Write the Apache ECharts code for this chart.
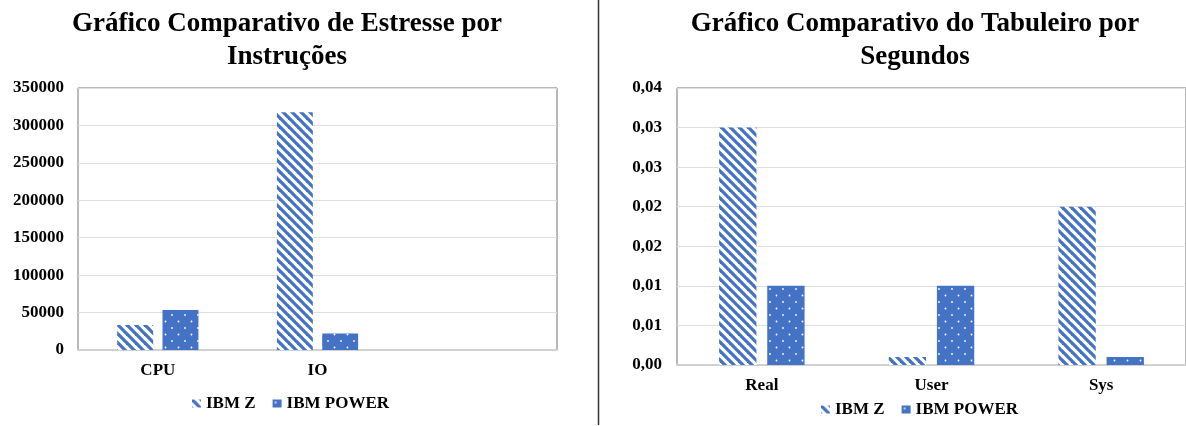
<!DOCTYPE html>
<html>
<head>
<meta charset="utf-8">
<script src="https://cdn.jsdelivr.net/npm/echarts@6/dist/echarts.min.js"></script>
<style>
html,body{margin:0;padding:0;background:#fff;}
#main{width:1186px;height:426px;}
</style>
</head>
<body>
<div id="main"></div>
<script>
// ---- data ----
const leftTitle = 'Gráfico Comparativo de Estresse por\nInstruções';
const rightTitle = 'Gráfico Comparativo do Tabuleiro por\nSegundos';
const seriesNames = ['IBM Z', 'IBM POWER'];

const leftCategories = ['CPU', 'IO', ''];
const leftIbmZ = [33300, 317500, null];
const leftIbmPower = [53300, 22200, null];
const leftYTicks = ['0', '50000', '100000', '150000', '200000', '250000', '300000', '350000'];

const rightCategories = ['Real', 'User', 'Sys'];
const rightIbmZ = [0.03, 0.001, 0.02];
const rightIbmPower = [0.01, 0.01, 0.001];
const rightYTicks = ['0,00', '0,01', '0,01', '0,02', '0,02', '0,03', '0,03', '0,04'];

// ---- patterns ----
const BLUE = '#4472C4';
function stripeTile() {
  const s = 9;
  const c = document.createElement('canvas');
  c.width = s; c.height = s;
  const g = c.getContext('2d');
  g.fillStyle = '#fff'; g.fillRect(0, 0, s, s);
  g.strokeStyle = BLUE; g.lineWidth = 3.3;
  for (let k = -s; k <= s; k += s) {
    g.beginPath(); g.moveTo(-2, -2 + k); g.lineTo(s + 2, s + 2 + k); g.stroke();
  }
  return c;
}
function dotTile() {
  const w = 13, h = 13;
  const c = document.createElement('canvas');
  c.width = w; c.height = h;
  const g = c.getContext('2d');
  g.fillStyle = BLUE; g.fillRect(0, 0, w, h);
  g.fillStyle = '#ffffff';
  g.beginPath(); g.arc(3, 3, 0.9, 0, Math.PI * 2); g.fill();
  g.beginPath(); g.arc(9.5, 9.5, 0.9, 0, Math.PI * 2); g.fill();
  return c;
}
const stripeFill = { image: stripeTile(), repeat: 'repeat' };
const dotFill = { image: dotTile(), repeat: 'repeat' };

const FONT = '"Liberation Serif", "Times New Roman", serif';
const labelStyle = { color: '#000', fontFamily: FONT, fontWeight: 'bold', fontSize: 17 };

const chart = echarts.init(document.getElementById('main'), null, { renderer: 'canvas' });

function yAxisCfg(gridIndex, max, interval, ticks, margin) {
  return {
    type: 'value', gridIndex, min: 0, max, interval,
    axisLine: { show: false }, axisTick: { show: false },
    splitLine: { lineStyle: { color: '#dedede', width: 1.2 } },
    axisLabel: Object.assign({ margin, formatter: (v) => ticks[Math.round(v / interval)] }, labelStyle)
  };
}
function xAxisCfg(gridIndex, cats, margin) {
  return {
    type: 'category', gridIndex, data: cats,
    axisLine: { lineStyle: { color: '#d0d0d0', width: 2 } },
    axisTick: { show: false },
    axisLabel: Object.assign({ margin, interval: 0 }, labelStyle)
  };
}

const titleFont = 'bold 27px ' + FONT;
const option = {
  animation: false,
  backgroundColor: '#fff',
  graphic: [
    { type: 'text', x: 287, y: 8, style: { text: leftTitle, font: titleFont, textAlign: 'center', textVerticalAlign: 'top', lineHeight: 33, fill: '#000' } },
    { type: 'text', x: 915, y: 8, style: { text: rightTitle, font: titleFont, textAlign: 'center', textVerticalAlign: 'top', lineHeight: 33, fill: '#000' } },
    { type: 'line', shape: { x1: 598.5, y1: 0, x2: 598.5, y2: 425 }, style: { stroke: '#333', lineWidth: 1.5 } }
  ],
  grid: [
    { left: 78, top: 88, width: 479, height: 262, show: true, borderColor: '#737373', borderWidth: 1, backgroundColor: 'transparent' },
    { left: 677, top: 88, width: 519, height: 277, show: true, borderColor: '#737373', borderWidth: 1, backgroundColor: 'transparent' }
  ],
  xAxis: [xAxisCfg(0, leftCategories, 12), xAxisCfg(1, rightCategories, 12)],
  yAxis: [yAxisCfg(0, 350000, 50000, leftYTicks, 14), yAxisCfg(1, 0.035, 0.005, rightYTicks, 15)],
  legend: [
    { data: seriesNames, left: 187, top: 390, itemWidth: 9, itemHeight: 8, itemGap: 17, icon: 'rect', textStyle: labelStyle },
    { data: seriesNames, left: 816, top: 396, itemWidth: 9, itemHeight: 8, itemGap: 17, icon: 'rect', textStyle: labelStyle }
  ],
  series: [
    { name: seriesNames[0], type: 'bar', xAxisIndex: 0, yAxisIndex: 0, data: leftIbmZ, barWidth: '22.5%', barGap: '26%', itemStyle: { color: stripeFill } },
    { name: seriesNames[1], type: 'bar', xAxisIndex: 0, yAxisIndex: 0, data: leftIbmPower, barWidth: '22.5%', barGap: '26%', itemStyle: { color: dotFill } },
    { name: seriesNames[0], type: 'bar', xAxisIndex: 1, yAxisIndex: 1, data: rightIbmZ, barWidth: '22%', barGap: '29%', itemStyle: { color: stripeFill } },
    { name: seriesNames[1], type: 'bar', xAxisIndex: 1, yAxisIndex: 1, data: rightIbmPower, barWidth: '22%', barGap: '29%', itemStyle: { color: dotFill } }
  ]
};
chart.setOption(option);
</script>
</body>
</html>
